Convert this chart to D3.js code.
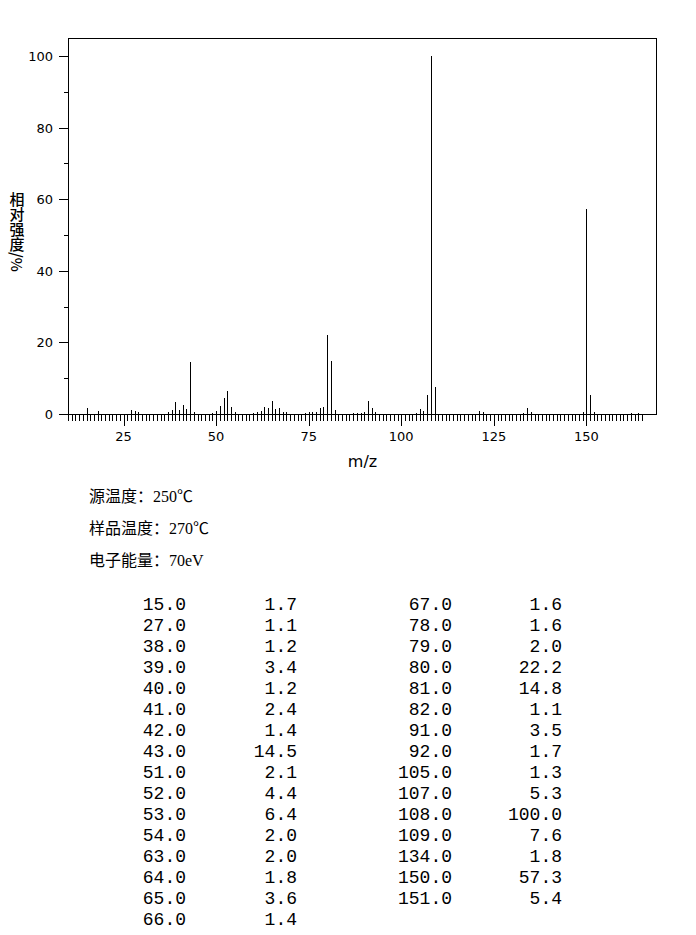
<!DOCTYPE html>
<html><head><meta charset="utf-8">
<script src="https://cdn.jsdelivr.net/npm/d3@7"></script>
<style>
html,body{margin:0;padding:0;background:#fff;}
svg{display:block;}
</style></head>
<body>
<svg id="chart" width="696" height="935"></svg>
<script>
// Table peaks (m/z, relative intensity %)
const tableMz  = [15,27,38,39,40,41,42,43,51,52,53,54,63,64,65,66,67,78,79,80,81,82,91,92,105,107,108,109,134,150,151];
const tableInt = [1.7,1.1,1.2,3.4,1.2,2.4,1.4,14.5,2.1,4.4,6.4,2.0,2.0,1.8,3.6,1.4,1.6,1.6,2.0,22.2,14.8,1.1,3.5,1.7,1.3,5.3,100.0,7.6,1.8,57.3,5.4];
// Small peaks visible in the plot but not listed in the table (estimated)
const minorMz  = [18,28,29,37,44,49,50,55,60,61,62,68,69,74,75,76,77,87,88,89,90,93,104,106,121,122,133,135,149,152,162,164];
const minorInt = [0.9,0.8,0.5,0.5,0.5,0.4,0.9,0.5,0.3,0.5,0.9,0.6,0.6,0.4,0.5,0.6,0.5,0.3,0.4,0.3,0.6,0.5,0.4,0.9,0.9,0.5,0.4,0.6,0.6,0.5,0.3,0.3];
const xTickLabels = [25,50,75,100,125,150];
const yTickLabels = [0,20,40,60,80,100];
const yTitleText = "相对强度/%";
const infoLabels = ["源温度：", "样品温度：", "电子能量："];
const infoValues = ["250℃", "270℃", "70eV"];

const svg = d3.select("#chart");
const x = d3.scaleLinear().domain([10, 168.8]).range([68, 656]);
const y = d3.scaleLinear().domain([0, 105]).range([414, 38]);
const px = v => Math.round(x(v)) + 0.5;
const py = v => Math.round(y(v)) + 0.5;

const g = svg.append("g").attr("shape-rendering","crispEdges");

// peaks
const peaks = tableMz.map((m,i)=>({m, v:tableInt[i]}))
  .concat(minorMz.map((m,i)=>({m, v:minorInt[i]})));
g.selectAll("line.peak").data(peaks).join("line").attr("class","peak")
  .attr("x1", d=>px(d.m)).attr("x2", d=>px(d.m))
  .attr("y1", py(0)).attr("y2", d=>Math.round(y(d.v)))
  .attr("stroke","#000").attr("stroke-width",1);

// frame
const x0 = px(10), x1 = px(168.8), yt = py(105), yb = py(0);
g.append("path").attr("d",`M${x0},${yb}V${yt}H${x1}V${yb}H${x0}`)
  .attr("fill","none").attr("stroke","#000").attr("stroke-width",1);

// x ticks every unit
const xt = d3.range(10, 166, 1);
g.selectAll("line.xt").data(xt).join("line").attr("class","xt")
  .attr("x1", d=>px(d)).attr("x2", d=>px(d))
  .attr("y1", yb).attr("y2", d=> yb + (d%25===0 ? 11 : 6))
  .attr("stroke","#000");
svg.selectAll("text.xl").data(xTickLabels).join("text").attr("class","xl")
  .attr("x", d=>x(d)).attr("y", 441)
  .attr("text-anchor","middle")
  .style("font-family","'DejaVu Sans', sans-serif").style("font-size","13px")
  .text(d=>d);

// y ticks
const yt2 = d3.range(0, 101, 10);
g.selectAll("line.yt").data(yt2).join("line").attr("class","yt")
  .attr("y1", d=>py(d)).attr("y2", d=>py(d))
  .attr("x1", x0).attr("x2", d=> x0 - (d%20===0 ? 10 : 5))
  .attr("stroke","#000");
svg.selectAll("text.yl").data(yTickLabels).join("text").attr("class","yl")
  .attr("x", 53).attr("y", d=>y(d)+5)
  .attr("text-anchor","end")
  .style("font-family","'DejaVu Sans', sans-serif").style("font-size","13px")
  .text(d=>d);

// axis titles
svg.append("text").attr("x", (x0+x1)/2).attr("y", 467).attr("text-anchor","middle")
  .style("font-family","'DejaVu Sans', sans-serif").style("font-size","16px").text("m/z");
svg.append("text").attr("x", 17).attr("y", 192)
  .style("writing-mode","vertical-rl")
  .style("font-family","'Noto Sans CJK SC', sans-serif").style("font-size","15px").style("font-weight","500")
  .text(yTitleText);

// info lines
const info = svg.selectAll("text.info").data(infoLabels).join("text").attr("class","info")
  .attr("x", 89).attr("y", (d,i)=>502 + i*32)
  .style("font-size","16px");
info.append("tspan").style("font-family","'Noto Sans CJK SC', sans-serif").text(d=>d);
info.append("tspan").style("font-family","'Liberation Serif', 'Noto Sans CJK SC', serif")
  .text((d,i)=>infoValues[i]);

// table
const leftN = 16;
const rows = tableMz.map((m,i)=>({m, v:tableInt[i], col: i<leftN?0:1, row: i<leftN?i:i-leftN}));
const colX = [[186,297],[452,562]];
const tf = s => s.style("font-family","'Liberation Mono', 'DejaVu Sans Mono', monospace").style("font-size","18px").attr("text-anchor","end");
svg.selectAll("text.tm").data(rows).join("text").attr("class","tm")
  .attr("x", d=>colX[d.col][0]).attr("y", d=>610 + d.row*21)
  .call(tf).text(d=>d.m.toFixed(1));
svg.selectAll("text.tv").data(rows).join("text").attr("class","tv")
  .attr("x", d=>colX[d.col][1]).attr("y", d=>610 + d.row*21)
  .call(tf).text(d=>d.v.toFixed(1));
</script>
</body></html>
